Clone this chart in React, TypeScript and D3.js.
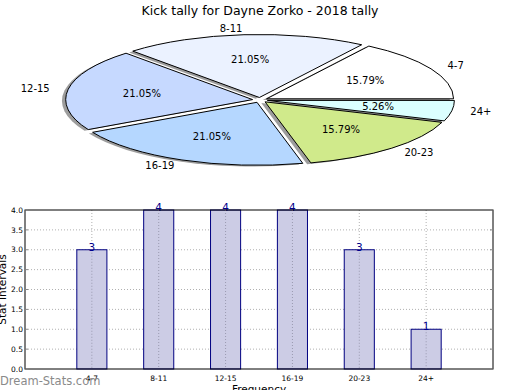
import React from "react";
import * as d3 from "d3";

const categories = ["4-7", "8-11", "12-15", "16-19", "20-23", "24+"];
const counts = [3, 4, 4, 4, 3, 1];
const sliceColors = ["#ffffff", "#ebf2ff", "#c6d9ff", "#b5d7ff", "#d0ea8b", "#dbffff"];
const yTicks = [0, 0.5, 1, 1.5, 2, 2.5, 3, 3.5, 4];

const W = 520;
const H = 390;
const font = "DejaVu Sans, sans-serif";

// pie geometry (squashed ellipse, like a non-equal aspect matplotlib pie)
const cx = 260;
const cy = 100;
const rx = 187;
const ry = 63;
const explode = 0.04;

// bar panel
const left = 25;
const right = 493;
const top = 210;
const bottom = 369;

const App: React.FC = () => {
  const total = d3.sum(counts);
  const pie = d3
    .pie<number>()
    .sort(null)
    .startAngle(Math.PI / 2)
    .endAngle(Math.PI / 2 - 2 * Math.PI);
  const arcs = pie(counts);
  const arc = d3.arc<d3.PieArcDatum<number>>().innerRadius(0).outerRadius(1);

  const x = d3.scaleLinear().domain([0, 7]).range([left, right]);
  const y = d3.scaleLinear().domain([0, 4]).range([bottom, top]);
  const barW = x(0.45) - x(0);

  return (
    <svg
      width={W}
      height={H}
      style={{ position: "absolute", left: 0, top: 0, background: "#fff" }}
      fontFamily={font}
    >
      <text x={260} y={15} textAnchor="middle" fontSize={12.5}>
        Kick tally for Dayne Zorko - 2018 tally
      </text>

      <g transform={`translate(${cx},${cy}) scale(${rx},${ry})`}>
        {arcs.map((d, i) => {
          const m = (d.startAngle + d.endAngle) / 2;
          const ox = explode * Math.sin(m) - 0.02;
          const oy = -explode * Math.cos(m) + 0.02;
          return (
            <path
              key={"s" + i}
              d={arc(d) || ""}
              transform={`translate(${ox},${oy})`}
              fill="#4d4d4d"
              fillOpacity={0.55}
            />
          );
        })}
        {arcs.map((d, i) => {
          const m = (d.startAngle + d.endAngle) / 2;
          const ox = explode * Math.sin(m);
          const oy = -explode * Math.cos(m);
          return (
            <path
              key={"w" + i}
              d={arc(d) || ""}
              transform={`translate(${ox},${oy})`}
              fill={sliceColors[i]}
              stroke="#000"
              strokeWidth={1}
              vectorEffect="non-scaling-stroke"
            />
          );
        })}
      </g>

      {arcs.map((d, i) => {
        const m = (d.startAngle + d.endAngle) / 2;
        const s = Math.sin(m);
        const c = -Math.cos(m);
        const lx = cx + rx * (1.1 + explode) * s;
        const ly = cy + ry * (1.1 + explode) * c;
        const px = cx + rx * (0.6 + explode) * s;
        const py = cy + ry * (0.6 + explode) * c;
        return (
          <g key={"l" + i} fontSize={10}>
            <text x={lx} y={ly} dy="0.35em" textAnchor={s > 0 ? "start" : "end"}>
              {categories[i]}
            </text>
            <text x={px} y={py} dy="0.35em" textAnchor="middle">
              {((counts[i] / total) * 100).toFixed(2)}%
            </text>
          </g>
        );
      })}

      {/* bar chart */}
      <g>
        {yTicks.slice(1, -1).map((t) => (
          <line
            key={"gy" + t}
            x1={left}
            x2={right}
            y1={y(t)}
            y2={y(t)}
            stroke="#b0b0b0"
            strokeDasharray="1,2"
          />
        ))}
        {categories.map((c, i) => (
          <line
            key={"gx" + c}
            x1={x(i + 1)}
            x2={x(i + 1)}
            y1={top}
            y2={bottom}
            stroke="#b0b0b0"
            strokeDasharray="1,2"
          />
        ))}
        {counts.map((v, i) => (
          <rect
            key={"b" + i}
            x={x(i + 1) - barW / 2}
            y={y(v)}
            width={barW}
            height={y(0) - y(v)}
            fill="#cccce5"
            stroke="#000080"
            strokeWidth={1}
          />
        ))}
        {categories.map((c, i) => (
          <line
            key={"gx2" + c}
            x1={x(i + 1)}
            x2={x(i + 1)}
            y1={y(counts[i])}
            y2={bottom}
            stroke="#9a9ab0"
            strokeDasharray="1,2"
          />
        ))}
        {counts.map((v, i) => (
          <text
            key={"v" + i}
            x={x(i + 1)}
            y={y(v) + 1}
            textAnchor="middle"
            fontSize={10.5}
            fill="#00008b"
          >
            {v}
          </text>
        ))}
        <rect
          x={left}
          y={top}
          width={right - left}
          height={bottom - top}
          fill="none"
          stroke="#000"
          strokeWidth={1}
        />
        {yTicks.map((t) => (
          <g key={"yt" + t}>
            <line x1={left} x2={left + 3} y1={y(t)} y2={y(t)} stroke="#888" />
            <line x1={right - 3} x2={right} y1={y(t)} y2={y(t)} stroke="#888" />
            <text x={left - 2} y={y(t)} dy="0.35em" textAnchor="end" fontSize={7.5}>
              {t.toFixed(1)}
            </text>
          </g>
        ))}
        {categories.map((c, i) => (
          <text key={"xt" + c} x={x(i + 1)} y={381} textAnchor="middle" fontSize={7.5}>
            {c}
          </text>
        ))}
        <text
          transform={`translate(6,${(top + bottom) / 2}) rotate(-90)`}
          textAnchor="middle"
          fontSize={10.5}
        >
          Stat Intervals
        </text>
        <text x={259} y={393} textAnchor="middle" fontSize={10.5}>
          Frequency
        </text>
      </g>

      <text x={0} y={385} fontSize={11.5} fill="#8a8a8a">
        Dream-Stats.com
      </text>
    </svg>
  );
};

export default App;
